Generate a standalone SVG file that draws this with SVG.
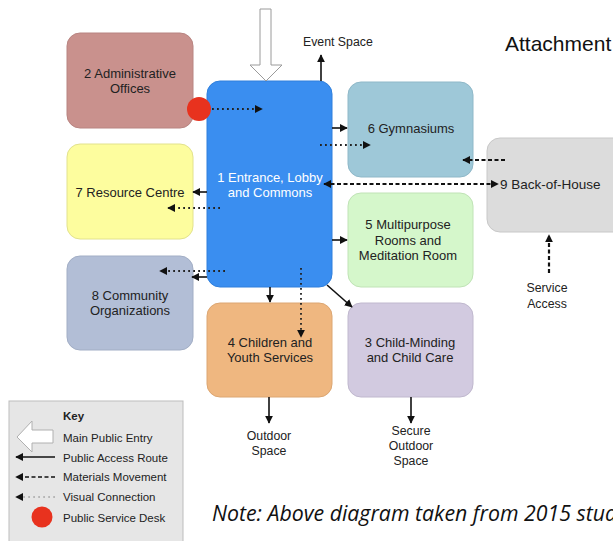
<svg xmlns="http://www.w3.org/2000/svg" width="613" height="541" viewBox="0 0 613 541">
<defs>
<style>
.t{font-family:"Liberation Sans",Arial,sans-serif;font-size:13px;fill:#222;text-anchor:middle}
.w{fill:#fff}
.s{font-family:"Liberation Sans",Arial,sans-serif;font-size:12.3px;fill:#222}
.k{font-family:"Liberation Sans",Arial,sans-serif;font-size:11.5px;fill:#222}
.solid{stroke:#111;stroke-width:1.6;fill:none;marker-end:url(#ah)}
.dash{stroke:#111;stroke-width:2.2;stroke-dasharray:4 2.5;fill:none;marker-end:url(#ah)}
.dot{stroke:#222;stroke-width:1.8;stroke-dasharray:1.8 3.2;fill:none;marker-end:url(#ah)}
</style>
<marker id="ah" viewBox="0 0 10 10" refX="9" refY="5" markerWidth="8" markerHeight="8" markerUnits="userSpaceOnUse" orient="auto-start-reverse">
<path d="M0,0 L10,5 L0,10 Z" fill="#111"/>
</marker>
</defs>
<rect width="613" height="541" fill="#fff"/>

<g id="node2"><rect x="67" y="33" width="126" height="95" rx="13" fill="#c9918d" stroke="#b88481"/>
<text class="t" x="130" y="78">2 Administrative</text><text class="t" x="130" y="93">Offices</text></g>
<g id="node7"><rect x="67" y="144" width="126" height="95" rx="13" fill="#fdfd9e" stroke="#e2e28d"/>
<text class="t" x="130" y="197">7 Resource Centre</text></g>
<g id="node8"><rect x="67" y="256" width="126" height="94" rx="13" fill="#b2bed6" stroke="#a2aec5"/>
<text class="t" x="130" y="300">8 Community</text><text class="t" x="130" y="315">Organizations</text></g>
<g id="node1"><rect x="207" y="81" width="125" height="206" rx="13" fill="#3a8ef0" stroke="#2f7fdc"/>
<text class="t w" x="270" y="182">1 Entrance, Lobby</text><text class="t w" x="270" y="197">and Commons</text></g>
<g id="node6"><rect x="348" y="82" width="125" height="95" rx="13" fill="#9ec8d8" stroke="#8fb8c8"/>
<text class="t" x="411" y="133">6 Gymnasiums</text></g>
<g id="node5"><rect x="348" y="193" width="125" height="94" rx="13" fill="#d5f7cb" stroke="#c0e3b6"/>
<text class="t" x="408" y="229">5 Multipurpose</text><text class="t" x="408" y="245">Rooms and</text><text class="t" x="408" y="260">Meditation Room</text></g>
<g id="node4"><rect x="207" y="303" width="125" height="94" rx="13" fill="#efb780" stroke="#dca672"/>
<text class="t" x="270" y="347">4 Children and</text><text class="t" x="270" y="362">Youth Services</text></g>
<g id="node3"><rect x="348" y="303" width="125" height="94" rx="13" fill="#d2cae0" stroke="#c0b8ce"/>
<text class="t" x="410" y="347">3 Child-Minding</text><text class="t" x="410" y="362">and Child Care</text></g>
<g id="node9"><rect x="487" y="138" width="140" height="94" rx="13" fill="#dcdcdc" stroke="#c8c8c8"/>
<text class="t" x="500" y="189" style="text-anchor:start;font-size:13.5px">9 Back-of-House</text></g>
<g id="desk"><circle cx="199" cy="109" r="12" fill="#e8321e"/></g>

<g id="labels">
<text class="s" x="303" y="46">Event Space</text>
<text class="s" x="547" y="292" style="text-anchor:middle">Service</text>
<text class="s" x="547" y="308" style="text-anchor:middle">Access</text>
<text class="s" x="269" y="440" style="text-anchor:middle">Outdoor</text>
<text class="s" x="269" y="455" style="text-anchor:middle">Space</text>
<text class="s" x="411" y="435" style="text-anchor:middle">Secure</text>
<text class="s" x="411" y="450" style="text-anchor:middle">Outdoor</text>
<text class="s" x="411" y="465" style="text-anchor:middle">Space</text>
<text x="505" y="51" style="font-family:'Liberation Sans',Arial,sans-serif;font-size:21px;fill:#111">Attachment</text>
</g>

<g id="connectors">
<polygon points="260,9 271,9 271,65 282,65 266,81 250,65 260,65" fill="#fff" stroke="#9a9a9a" stroke-width="1"/>
<line class="solid" x1="321" y1="81" x2="321" y2="55"/>
<line class="dot" x1="212" y1="109" x2="262" y2="109"/>
<line class="solid" x1="332" y1="128" x2="347" y2="128"/>
<line class="dot" x1="320" y1="145" x2="370" y2="145"/>
<line class="dash" x1="505" y1="160" x2="463" y2="160"/>
<line class="dash" x1="324" y1="184" x2="498" y2="184" style="marker-start:url(#ah)"/>
<line class="solid" x1="207" y1="192" x2="193" y2="192"/>
<line class="dot" x1="220" y1="208" x2="168" y2="208"/>
<line class="dot" x1="225" y1="271" x2="160" y2="271"/>
<line class="solid" x1="207" y1="277" x2="192" y2="277"/>
<line class="solid" x1="270" y1="287" x2="270" y2="302"/>
<line class="dot" x1="301" y1="268" x2="301" y2="337"/>
<line class="solid" x1="332" y1="240" x2="347" y2="240"/>
<line class="solid" x1="327" y1="285" x2="352" y2="307"/>
<line class="dash" x1="549" y1="273" x2="549" y2="235"/>
<line class="solid" x1="269" y1="397" x2="269" y2="423"/>
<line class="solid" x1="411" y1="397" x2="411" y2="423"/>
</g>

<g id="key">
<rect x="9" y="401" width="174" height="145" fill="#e6e6e6" stroke="#bdbdbd"/>
<text class="k" x="63" y="420" style="font-weight:bold">Key</text>
<polygon points="17,437 32,421 32,430 53,430 53,443 32,443 32,452" fill="#fff" stroke="#b0b0b0"/>
<text class="k" x="63" y="442">Main Public Entry</text>
<line class="solid" x1="55" y1="457" x2="16" y2="457"/>
<text class="k" x="63" y="462">Public Access Route</text>
<line class="dash" x1="55" y1="477" x2="16" y2="477" style="stroke-width:1.6"/>
<text class="k" x="63" y="481">Materials Movement</text>
<line class="dot" x1="55" y1="497" x2="16" y2="497" style="stroke:#888;stroke-width:1.2"/>
<text class="k" x="63" y="501">Visual Connection</text>
<circle cx="42" cy="517" r="10.5" fill="#e8321e"/>
<text class="k" x="63" y="522">Public Service Desk</text>
</g>

<text x="212" y="521" style="font-family:'Open Sans',sans-serif;font-style:italic;font-size:21.3px;fill:#111">Note: Above diagram taken from 2015 study</text>
</svg>
